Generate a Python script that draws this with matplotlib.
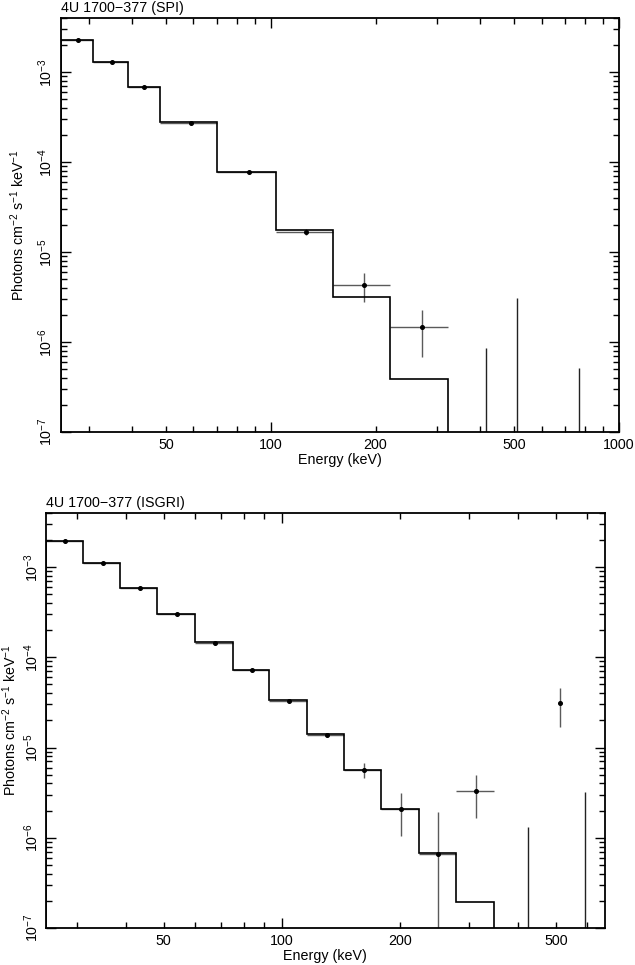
import numpy as np
import matplotlib
matplotlib.use("Agg")
import matplotlib.pyplot as plt
from matplotlib.ticker import FixedLocator, FuncFormatter, NullFormatter

plt.rcParams['font.family'] = ['Liberation Sans', 'DejaVu Sans']
plt.rcParams['mathtext.fontset'] = 'custom'
plt.rcParams['mathtext.rm'] = 'Liberation Sans'
plt.rcParams['mathtext.it'] = 'Liberation Sans:italic'
plt.rcParams['mathtext.bf'] = 'Liberation Sans:bold'
plt.rcParams['axes.unicode_minus'] = True

# ---------------- SPI data ----------------
spi_model_edges = [25, 30.8, 39.0, 48.0, 70.2, 103.4, 150.6, 220.7, 323]
spi_model_vals = [2.28e-3, 1.30e-3, 6.88e-4, 2.77e-4, 7.8e-5, 1.78e-5, 3.17e-6, 3.9e-7]
spi_e = [27.9, 35.0, 43.3, 59.1, 86.6, 126.7, 185.4, 271.9]
spi_f = [2.28e-3, 1.30e-3, 6.9e-4, 2.7e-4, 7.8e-5, 1.68e-5, 4.3e-6, 1.47e-6]
spi_lo = [2.22e-3, 1.27e-3, 6.75e-4, 2.64e-4, 7.6e-5, 1.55e-5, 2.79e-6, 6.85e-7]
spi_hi = [2.34e-3, 1.33e-3, 7.05e-4, 2.76e-4, 8.0e-5, 1.82e-5, 5.8e-6, 2.26e-6]
spi_xlo = [25, 30.8, 39.0, 48.0, 70.2, 103.4, 150.6, 220.7]
spi_xhi = [30.8, 39.0, 48.0, 70.2, 103.4, 150.6, 220.7, 323]
spi_ul_e = [415.7, 511, 768]
spi_ul_hi = [8.5e-7, 3.06e-6, 5.2e-7]

# ---------------- ISGRI data ----------------
isg_model_edges = [25, 31.1, 38.8, 48.0, 60.0, 75.2, 92.9, 115.8, 143.9, 178.9, 223.3, 277.9, 346]
isg_model_vals = [1.93e-3, 1.10e-3, 5.9e-4, 3.0e-4, 1.46e-4, 7.25e-5, 3.36e-5, 1.41e-5,
                  5.7e-6, 2.1e-6, 6.76e-7, 1.95e-7]
isg_e = [28.1, 35.1, 43.4, 53.9, 67.6, 84.0, 104.4, 130.0, 161.6, 200.8, 250.0, 312.0, 511]
isg_f = [1.93e-3, 1.10e-3, 5.9e-4, 3.0e-4, 1.43e-4, 7.2e-5, 3.3e-5, 1.37e-5,
         5.7e-6, 2.1e-6, 6.64e-7, 3.3e-6, 3.08e-5]
isg_lo = [1.90e-3, 1.08e-3, 5.8e-4, 2.95e-4, 1.40e-4, 7.0e-5, 3.2e-5, 1.30e-5,
          4.57e-6, 1.04e-6, 0.0, 1.67e-6, 1.67e-5]
isg_hi = [1.96e-3, 1.12e-3, 6.0e-4, 3.05e-4, 1.46e-4, 7.4e-5, 3.4e-5, 1.46e-5,
          6.7e-6, 3.16e-6, 1.93e-6, 4.97e-6, 4.6e-5]
isg_xlo = [25, 31.1, 38.8, 48.0, 60.0, 75.2, 92.9, 115.8, 143.9, 178.9, 223.3, 277.9, 508]
isg_xhi = [31.1, 38.8, 48.0, 60.0, 75.2, 92.9, 115.8, 143.9, 178.9, 223.3, 277.9, 346, 514]
isg_ul_e = [423.4, 593]
isg_ul_hi = [1.31e-6, 3.24e-6]

YMIN, YMAX = 1e-7, 4e-3
ylabel = r"Photons cm$^{-2}$ s$^{-1}$ keV$^{-1}$"
FS = 10.3

fig = plt.figure(figsize=(6.35, 9.65), dpi=100)
ax1 = fig.add_axes([61/635, 1-432/965, 558/635, 414/965])
ax2 = fig.add_axes([45.5/635, 1-928/965, 559.5/635, 415.3/965])

err_col = '#5a5a5a'


def panel(ax, edges, vals, e, f, lo, hi, xlo, xhi, ul_e, ul_hi, xmin, xmax,
          xlabels, title, ylab_x, ytick_pad):
    ax.set_xscale('log')
    ax.set_yscale('log')
    ax.set_xlim(xmin, xmax)
    ax.set_ylim(YMIN, YMAX)
    e = np.array(e); f = np.array(f)
    lo = np.maximum(np.array(lo), 1e-12); hi = np.array(hi)
    xlo = np.array(xlo); xhi = np.array(xhi)
    ax.errorbar(e, f, yerr=[f - lo, hi - f], xerr=[e - xlo, xhi - e],
                fmt='none', ecolor=err_col, elinewidth=1.0, capsize=0, zorder=2)
    ax.stairs(vals, edges, baseline=1e-12, color='black', lw=1.2, zorder=3)
    ax.plot(e, f, 'o', color='black', ms=2.6, zorder=4)
    ax.vlines(ul_e, 1e-12, ul_hi, color='#222222', lw=1.0, zorder=2)

    # ticks
    decs = [10, 100, 1000]
    minors = [m * d for d in decs for m in range(2, 10)]
    ax.xaxis.set_major_locator(FixedLocator(decs))
    ax.xaxis.set_minor_locator(FixedLocator(minors))
    fmt = FuncFormatter(lambda v, p: (str(int(round(v))) if int(round(v)) in xlabels else ''))
    ax.xaxis.set_major_formatter(fmt)
    ax.xaxis.set_minor_formatter(fmt)
    ydecs = [10.0 ** k for k in range(-8, -1)]
    ax.yaxis.set_major_locator(FixedLocator(ydecs))
    ax.yaxis.set_minor_locator(FixedLocator([m * d for d in ydecs for m in range(2, 10)]))
    ax.yaxis.set_major_formatter(FuncFormatter(lambda v, p: r"$10^{%d}$" % int(round(np.log10(v)))))
    ax.yaxis.set_minor_formatter(NullFormatter())
    ax.tick_params(which='both', direction='in', top=True, right=True, labelsize=FS,
                   width=1.0, colors='black')
    ax.tick_params(which='major', length=7)
    ax.tick_params(which='minor', length=4)
    ax.tick_params(axis='x', which='both', pad=4)
    ax.tick_params(axis='y', which='both', labelrotation=90, pad=ytick_pad)
    for lbl in ax.get_yticklabels():
        lbl.set_va('center')
    for s in ax.spines.values():
        s.set_linewidth(1.3)
    ax.set_xlabel("Energy (keV)", fontsize=FS, labelpad=1)
    ax.set_ylabel(ylabel, fontsize=FS)
    ax.yaxis.set_label_coords(ylab_x, 0.5)
    ax.set_title(title, loc='left', fontsize=FS, pad=4)


panel(ax1, spi_model_edges, spi_model_vals, spi_e, spi_f, spi_lo, spi_hi, spi_xlo, spi_xhi,
      spi_ul_e, spi_ul_hi, 25, 1000, [50, 100, 200, 500, 1000], "4U 1700\u2212377 (SPI)",
      (27 - 61) / 558, 4)
panel(ax2, isg_model_edges, isg_model_vals, isg_e, isg_f, isg_lo, isg_hi, isg_xlo, isg_xhi,
      isg_ul_e, isg_ul_hi, 25, 665, [50, 100, 200, 500], "4U 1700\u2212377 (ISGRI)",
      (18.5 - 45.5) / 559.5, 3)

fig.savefig("out.png", dpi=100)
